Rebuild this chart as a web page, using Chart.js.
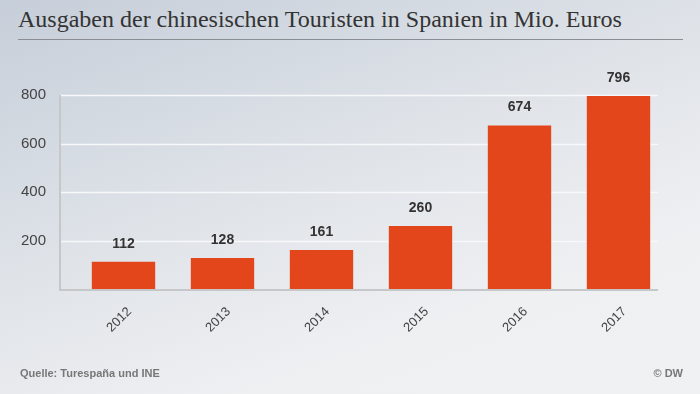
<!DOCTYPE html>
<html>
<head>
<meta charset="utf-8">
<script src="https://cdn.jsdelivr.net/npm/chart.js@4"></script>
<style>
  html, body { margin: 0; padding: 0; }
  body {
    width: 700px; height: 394px; overflow: hidden; position: relative;
    background: linear-gradient(160deg, #c6ced9 0%, #e0e4e9 45%, #eff0f2 75%, #f0f1f3 100%);
  }
  #title {
    position: absolute; left: 18px; top: 6px;
    font-family: "Liberation Serif", "DejaVu Serif", serif; font-size: 24px; color: #333;
  }
  #rule { position: absolute; left: 18px; top: 39px; width: 665px; height: 1px; background: #8a8d92; }
  #source { position: absolute; left: 20px; top: 367px; font: bold 11px "Liberation Sans", Arial, sans-serif; color: #777; }
  #dw { position: absolute; right: 17px; top: 367px; font: bold 11px "Liberation Sans", Arial, sans-serif; color: #777; }
  #wrap { position: absolute; left: 0; top: 0; width: 700px; height: 394px; }
</style>
</head>
<body>
<div id="title">Ausgaben der chinesischen Touristen in Spanien in Mio. Euros</div>
<div id="rule"></div>
<div id="wrap"><canvas id="mycanvas"></canvas></div>
<div id="source">Quelle: Turespaña und INE</div>
<div id="dw">© DW</div>
<script>
var years = ["2012", "2013", "2014", "2015", "2016", "2017"];
var spending = [112, 128, 161, 260, 674, 796];
var yTicks = [200, 400, 600, 800];

// frame: axis lines + grid, a bit wider on the left than the bar area
var frame = {
  id: "frame",
  beforeDatasetsDraw: function(chart) {
    var ctx = chart.ctx;
    var y = chart.scales.y;
    var left = chart.chartArea.left - 14;
    var right = chart.chartArea.right - 10;
    ctx.save();
    ctx.strokeStyle = "#f7f8f9";
    ctx.lineWidth = 1.5;
    yTicks.forEach(function(v) {
      var py = Math.round(y.getPixelForValue(v)) + 0.5;
      ctx.beginPath();
      ctx.moveTo(left, py);
      ctx.lineTo(right, py);
      ctx.stroke();
    });
    ctx.strokeStyle = "#c6c7c9";
    ctx.lineWidth = 2;
    var top = y.getPixelForValue(800);
    var bottom = y.getPixelForValue(0);
    ctx.beginPath();
    ctx.moveTo(left, top);
    ctx.lineTo(left, bottom + 1);
    ctx.lineTo(right, bottom + 1);
    ctx.stroke();
    ctx.restore();
  }
};

// labels on top of the bars
var valueLabels = {
  id: "valueLabels",
  afterDatasetsDraw: function(chart) {
    var ctx = chart.ctx;
    var meta = chart.getDatasetMeta(0);
    ctx.save();
    ctx.font = "bold 14px 'Liberation Sans', Arial, sans-serif";
    ctx.fillStyle = "#333";
    ctx.textAlign = "center";
    ctx.textBaseline = "middle";
    meta.data.forEach(function(bar, i) {
      ctx.fillText(spending[i], bar.x, bar.y - 18);
    });
    ctx.restore();
  }
};

var chartdata = {
  labels: years,
  datasets: [
    {
      label: "Ausgaben",
      data: spending,
      backgroundColor: "#e2461a",
      borderWidth: 0,
      barPercentage: 0.64,
      categoryPercentage: 1
    }
  ]
};

var ctx = document.getElementById("mycanvas");

var barGraph = new Chart(ctx, {
  type: "bar",
  data: chartdata,
  plugins: [frame, valueLabels],
  options: {
    responsive: true,
    maintainAspectRatio: false,
    animation: false,
    layout: { padding: { left: 0, right: 32, top: 95, bottom: 0 } },
    plugins: { legend: { display: false }, tooltip: { enabled: false } },
    scales: {
      x: {
        grid: { display: false, drawTicks: false },
        border: { display: false },
        ticks: {
          color: "#444",
          font: { family: "'Liberation Sans', Arial, sans-serif", size: 13 },
          minRotation: 45, maxRotation: 45, padding: 15, labelOffset: 6
        },
        afterFit: function(scale) { scale.height = 105; }
      },
      y: {
        min: 0, max: 800,
        grid: { display: false, drawTicks: false },
        border: { display: false },
        afterBuildTicks: function(scale) {
          scale.ticks = yTicks.map(function(v) { return { value: v }; });
        },
        ticks: {
          color: "#444",
          font: { family: "'Liberation Sans', Arial, sans-serif", size: 15 },
          padding: 28
        },
        afterFit: function(scale) { scale.width = 74; }
      }
    }
  }
});
</script>
</body>
</html>
